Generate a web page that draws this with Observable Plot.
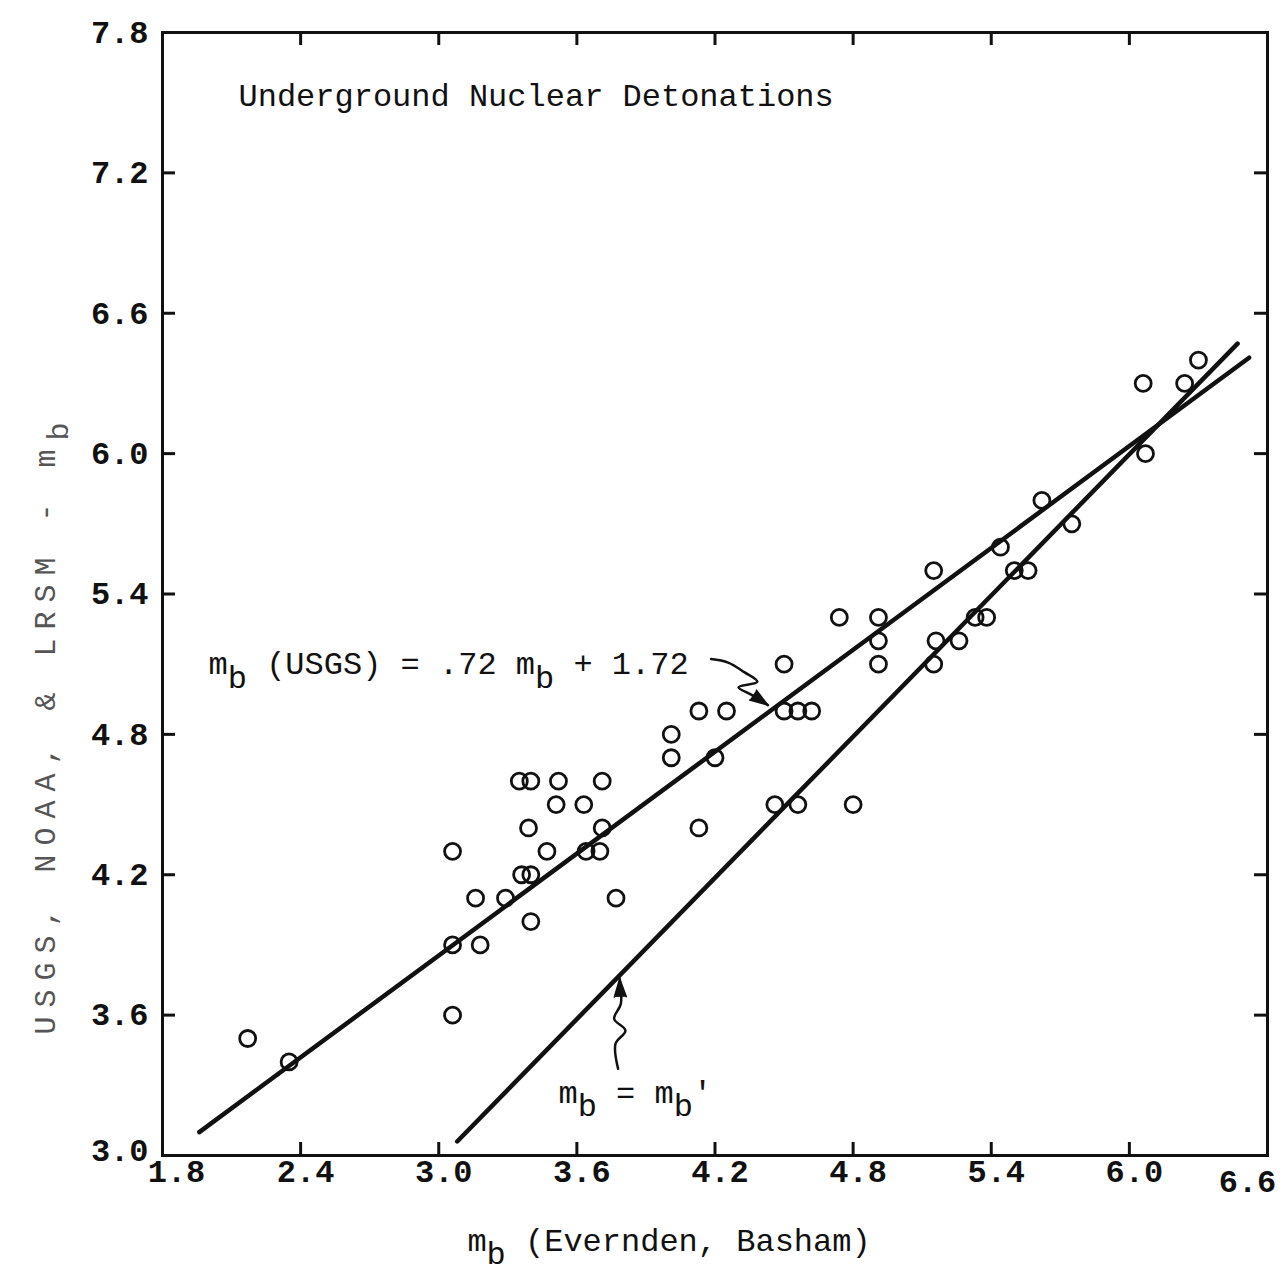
<!DOCTYPE html>
<html>
<head>
<meta charset="utf-8">
<script src="https://cdn.jsdelivr.net/npm/d3@7"></script>
<script src="https://cdn.jsdelivr.net/npm/@observablehq/plot@0.6"></script>
<style>
  html, body { margin: 0; padding: 0; background: #fff; }
</style>
</head>
<body>
<div id="chart"></div>
<script>
// ---- Data ----
const xTicks = [1.8, 2.4, 3.0, 3.6, 4.2, 4.8, 5.4, 6.0, 6.6];
const yTicks = [3.0, 3.6, 4.2, 4.8, 5.4, 6.0, 6.6, 7.2, 7.8];

// m_b (Evernden, Basham) for each underground detonation
const mbEvernden = [
  2.17, 2.35, 3.06, 3.06, 3.06, 3.16, 3.18, 3.29, 3.40, 3.36,
  3.40, 3.35, 3.40, 3.52, 3.71, 3.51, 3.63, 3.39, 3.47, 3.71,
  3.64, 3.70, 3.77, 4.01, 4.01, 4.13, 4.13, 4.20, 4.25, 4.46,
  4.50, 4.50, 4.56, 4.62, 4.56, 4.74, 4.80, 4.91, 4.91, 4.91,
  5.15, 5.16, 5.15, 5.26, 5.33, 5.38, 5.44, 5.50, 5.56, 5.62,
  5.75, 6.06, 6.07, 6.24, 6.30
];
// USGS, NOAA & LRSM m_b for the same events
const mbUSGS = [
  3.5, 3.4, 4.3, 3.9, 3.6, 4.1, 3.9, 4.1, 4.0, 4.2,
  4.2, 4.6, 4.6, 4.6, 4.6, 4.5, 4.5, 4.4, 4.3, 4.4,
  4.3, 4.3, 4.1, 4.8, 4.7, 4.4, 4.9, 4.7, 4.9, 4.5,
  5.1, 4.9, 4.9, 4.9, 4.5, 5.3, 4.5, 5.3, 5.2, 5.1,
  5.5, 5.2, 5.1, 5.2, 5.3, 5.3, 5.6, 5.5, 5.5, 5.8,
  5.7, 6.3, 6.0, 6.3, 6.4
];

// fitted line m_b(USGS) = .72 m_b + 1.72 (end points as drawn)
const fitX = [1.96, 6.52];
const fitY = [3.10, 6.41];
// m_b = m_b' line (end points as drawn)
const equalX = [3.08, 6.47];
const equalY = [3.06, 6.47];

// hand-drawn pointer arrows
const arrowFitX = [4.183, 4.257, 4.327, 4.384, 4.302, 4.359, 4.430];
const arrowFitY = [5.122, 5.107, 5.066, 5.025, 5.001, 4.969, 4.925];
const arrowEqX = [3.779, 3.768, 3.811, 3.762, 3.791, 3.786];
const arrowEqY = [3.371, 3.478, 3.534, 3.584, 3.649, 3.755];

// annotation texts
const titleText = "Underground Nuclear Detonations";
const fitLabel = "m_b (USGS) = .72 m_b + 1.72";
const equalLabel = "m_b = m_b'";
const xTitle = "m_b (Evernden, Basham)";
const yTitle = "USGS, NOAA, & LRSM - m_b";
const noteText = [titleText, fitLabel, equalLabel];
const noteX = [2.13, 2.00, 3.52];
const noteY = [7.53, 5.10, 3.27];

// ---- Build tables ----
const points = mbEvernden.map((x, i) => ({x, y: mbUSGS[i]}));
const fitLine = fitX.map((x, i) => ({x, y: fitY[i]}));
const equalLine = equalX.map((x, i) => ({x, y: equalY[i]}));
const arrowFit = arrowFitX.map((x, i) => ({x, y: arrowFitY[i]}));
const arrowEq = arrowEqX.map((x, i) => ({x, y: arrowEqY[i]}));
const notes = noteText.map((t, i) => ({t, x: noteX[i], y: noteY[i]}));

// ---- Layout / style ----
const W = 1283, H = 1275;
const mL = 162, mR = 16, mT = 32, mB = 120;
const innerW = W - mL - mR, innerH = H - mT - mB;
const tickLen = 13;
const ink = "#111";
const fmt = d => d.toFixed(1);
const tickText = {tickSize: 0, tickFormat: fmt, label: null, fontWeight: "bold", fill: ink};

const chart = Plot.plot({
  width: W, height: H,
  marginLeft: mL, marginRight: mR, marginTop: mT, marginBottom: mB,
  x: {domain: [1.8, 6.6]},
  y: {domain: [3.0, 7.8]},
  style: {
    fontFamily: "'Liberation Mono', 'DejaVu Sans Mono', monospace",
    fontSize: "32px",
    color: ink,
    background: "white"
  },
  marks: [
    Plot.frame({stroke: ink, strokeWidth: 3}),
    // inward ticks on all four sides
    Plot.tickX(xTicks.slice(1, -1), {x: d => d, insetTop: innerH - tickLen, stroke: ink, strokeWidth: 3}),
    Plot.tickX(xTicks.slice(1, -1), {x: d => d, insetBottom: innerH - tickLen, stroke: ink, strokeWidth: 3}),
    Plot.tickY(yTicks.slice(1, -1), {y: d => d, insetRight: innerW - tickLen, stroke: ink, strokeWidth: 3}),
    Plot.tickY(yTicks.slice(1, -1), {y: d => d, insetLeft: innerW - tickLen, stroke: ink, strokeWidth: 3}),
    // tick labels
    Plot.axisX(xTicks.slice(0, 1), {...tickText, anchor: "bottom", tickPadding: 4, dx: 14}),
    Plot.axisX(xTicks.slice(1, -1), {...tickText, anchor: "bottom", tickPadding: 4, dx: 5}),
    Plot.axisX(xTicks.slice(-1), {...tickText, anchor: "bottom", tickPadding: 14, dx: -20}),
    Plot.axisY(yTicks.slice(0, 1), {...tickText, anchor: "left", tickPadding: 14, dy: -5}),
    Plot.axisY(yTicks.slice(1), {...tickText, anchor: "left", tickPadding: 14}),
    // axis titles
    Plot.text([xTitle], {text: d => d, frameAnchor: "bottom", textAnchor: "middle", dy: 95, dx: -46, fontSize: 32, fill: ink}),
    Plot.text([yTitle], {text: d => d, frameAnchor: "left", textAnchor: "middle", rotate: -90, dx: -117, dy: 130, fontSize: 30, fill: "#555"}),
    // lines
    Plot.line(fitLine, {x: "x", y: "y", stroke: ink, strokeWidth: 4.5}),
    Plot.line(equalLine, {x: "x", y: "y", stroke: ink, strokeWidth: 4.5}),
    // points
    Plot.dot(points, {x: "x", y: "y", r: 8, stroke: ink, strokeWidth: 2.8, fill: "none"}),
    // pointer arrows
    Plot.line(arrowFit, {x: "x", y: "y", curve: "catmull-rom", stroke: ink, strokeWidth: 2.5}),
    Plot.vector(arrowFit.slice(-1), {x: "x", y: "y", shape: "spike", anchor: "end", length: 18, r: 6, rotate: 124, fill: ink, stroke: ink}),
    Plot.line(arrowEq, {x: "x", y: "y", curve: "catmull-rom", stroke: ink, strokeWidth: 2.5}),
    Plot.vector(arrowEq.slice(-1), {x: "x", y: "y", shape: "spike", anchor: "end", length: 18, r: 6, rotate: -2, fill: ink, stroke: ink}),
    // annotations
    Plot.text(notes, {x: "x", y: "y", text: "t", textAnchor: "start", fontSize: 32, fill: ink})
  ]
});

// subscript "b" after m (m_b)
const ns = "http://www.w3.org/2000/svg";
chart.querySelectorAll("text").forEach(t => {
  const s = t.textContent;
  if (s.includes("LRSM")) t.setAttribute("letter-spacing", "9");
  if (!s.includes("_b")) return;
  const parts = s.split("_b");
  while (t.firstChild) t.removeChild(t.firstChild);
  parts.forEach((p, i) => {
    if (i === 0) { t.appendChild(document.createTextNode(p)); return; }
    const sub = document.createElementNS(ns, "tspan");
    sub.setAttribute("dy", "0.42em");
    sub.textContent = "b";
    t.appendChild(sub);
    const rest = document.createElementNS(ns, "tspan");
    rest.setAttribute("dy", "-0.42em");
    rest.textContent = p;
    t.appendChild(rest);
  });
});

document.getElementById("chart").appendChild(chart);
</script>
</body>
</html>
